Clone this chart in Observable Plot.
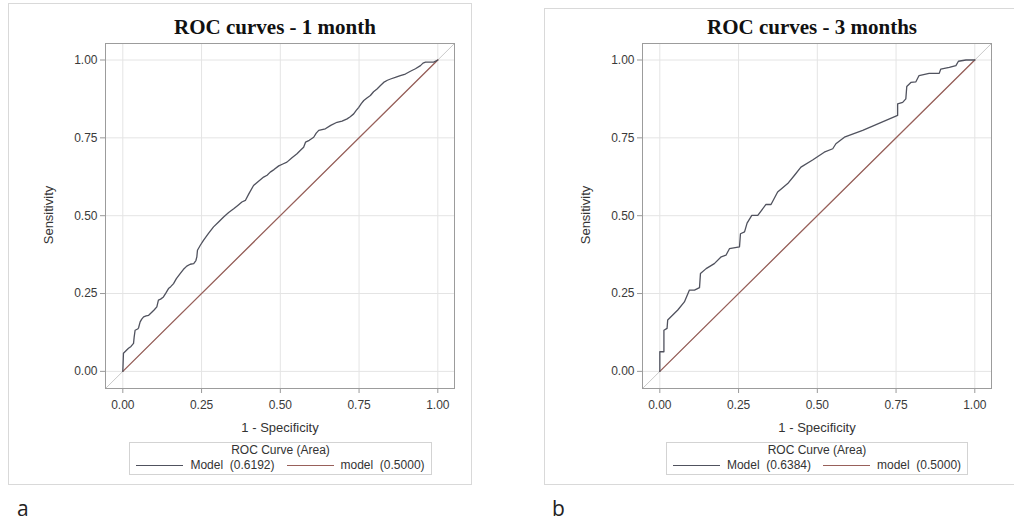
<!DOCTYPE html>
<html>
<head>
<meta charset="utf-8">
<script src="https://cdn.jsdelivr.net/npm/d3@7"></script>
<script src="https://cdn.jsdelivr.net/npm/@observablehq/plot@0.6"></script>
<style>
  html, body { margin: 0; padding: 0; background: #fff; }
  #page { position: relative; width: 1014px; height: 527px; overflow: hidden; font-family: "Liberation Sans", Arial, sans-serif; color: #333; }
  .panel { position: absolute; border: 1px solid #d9d9d9; box-sizing: border-box; }
  .title { position: absolute; font-family: "Liberation Serif", "Times New Roman", serif; font-weight: bold; font-size: 21px; color: #111; white-space: nowrap; transform: translate(-50%, -50%); }
  .xlabel { position: absolute; font-size: 13px; color: #333; white-space: nowrap; transform: translate(-50%, -50%); }
  .ylabel { position: absolute; font-size: 13px; color: #333; white-space: nowrap; transform: translate(-50%, -50%) rotate(-90deg); }
  .legend { position: absolute; border: 1px solid #d3d3d3; box-sizing: border-box; height: 33px; }
  .legend .lt { position: absolute; left: 0; right: 0; top: 0px; text-align: center; font-size: 12px; line-height: 15px; color: #333; }
  .legend .row { position: absolute; left: 0; right: 0; top: 15px; height: 14px; display: flex; justify-content: center; align-items: center; font-size: 12px; color: #333; white-space: pre; }
  .legend .sw { display: inline-block; width: 47px; height: 0; border-top: 1px solid #666; margin-right: 7px; }
  .legend .gap { display: inline-block; width: 12px; }
  .plot { position: absolute; }
  .tag { position: absolute; font-family: "Open Sans", sans-serif; font-size: 21px; color: #222; transform: translate(0, -50%); }
</style>
</head>
<body>
<div id="page"></div>
<script>
// ---------- data ----------
const axisTicks = [0, 0.25, 0.5, 0.75, 1];
const axisTickLabels = ["0.00", "0.25", "0.50", "0.75", "1.00"];

const panelTitles = ["ROC curves - 1 month", "ROC curves - 3 months"];
const panelTags = ["a", "b"];
const xAxisLabel = "1 - Specificity";
const yAxisLabel = "Sensitivity";
const legendTitle = "ROC Curve (Area)";
const modelAreas = ["0.6192", "0.6384"];
const chanceArea = "0.5000";

// 1 month ROC curve (1 - specificity, sensitivity)
const fpr1 = [0, 0.002, 0.010, 0.018, 0.026, 0.034, 0.036, 0.039, 0.047, 0.050, 0.055, 0.060, 0.066, 0.074, 0.082, 0.092, 0.100, 0.108, 0.113, 0.120, 0.129, 0.137, 0.145, 0.152, 0.161, 0.170, 0.182, 0.192, 0.203, 0.214, 0.225, 0.232, 0.235, 0.237, 0.246, 0.256, 0.272, 0.288, 0.304, 0.320, 0.336, 0.352, 0.365, 0.378, 0.389, 0.400, 0.415, 0.430, 0.447, 0.458, 0.468, 0.480, 0.495, 0.508, 0.521, 0.537, 0.553, 0.564, 0.574, 0.580, 0.592, 0.606, 0.614, 0.622, 0.643, 0.660, 0.680, 0.696, 0.712, 0.722, 0.733, 0.741, 0.749, 0.757, 0.765, 0.775, 0.786, 0.796, 0.807, 0.818, 0.828, 0.840, 0.850, 0.865, 0.881, 0.897, 0.913, 0.929, 0.945, 0.953, 0.961, 0.975, 0.987, 1];
const tpr1 = [0, 0.058, 0.066, 0.074, 0.080, 0.090, 0.110, 0.132, 0.136, 0.140, 0.159, 0.168, 0.175, 0.178, 0.180, 0.190, 0.198, 0.207, 0.229, 0.232, 0.239, 0.252, 0.266, 0.272, 0.282, 0.298, 0.314, 0.327, 0.338, 0.344, 0.346, 0.356, 0.368, 0.389, 0.405, 0.421, 0.443, 0.464, 0.480, 0.496, 0.510, 0.522, 0.533, 0.544, 0.549, 0.570, 0.597, 0.610, 0.624, 0.630, 0.640, 0.648, 0.660, 0.666, 0.672, 0.686, 0.699, 0.710, 0.720, 0.736, 0.742, 0.752, 0.765, 0.774, 0.779, 0.790, 0.800, 0.804, 0.811, 0.818, 0.827, 0.838, 0.848, 0.860, 0.870, 0.878, 0.886, 0.898, 0.907, 0.918, 0.928, 0.935, 0.939, 0.944, 0.950, 0.955, 0.964, 0.972, 0.982, 0.990, 0.993, 0.993, 0.993, 1];

// 3 months ROC curve
const fpr3 = [0, 0, 0.013, 0.013, 0.023, 0.025, 0.041, 0.057, 0.078, 0.094, 0.110, 0.126, 0.129, 0.147, 0.173, 0.195, 0.210, 0.221, 0.253, 0.256, 0.269, 0.277, 0.292, 0.311, 0.337, 0.353, 0.374, 0.406, 0.427, 0.448, 0.485, 0.522, 0.549, 0.559, 0.586, 0.644, 0.681, 0.755, 0.755, 0.771, 0.781, 0.784, 0.797, 0.813, 0.823, 0.855, 0.887, 0.892, 0.919, 0.940, 0.948, 0.972, 1];
const tpr3 = [0, 0.063, 0.063, 0.132, 0.138, 0.165, 0.181, 0.197, 0.223, 0.261, 0.261, 0.269, 0.314, 0.330, 0.346, 0.368, 0.373, 0.394, 0.400, 0.442, 0.448, 0.476, 0.501, 0.501, 0.536, 0.536, 0.576, 0.603, 0.629, 0.656, 0.679, 0.704, 0.715, 0.731, 0.752, 0.774, 0.790, 0.822, 0.859, 0.864, 0.875, 0.915, 0.928, 0.930, 0.950, 0.957, 0.957, 0.971, 0.976, 0.982, 0.996, 1, 1];

// chance line and frame diagonal
const chanceX = [0, 1];
const chanceY = [0, 1];
const axisDomain = [-0.055, 1.053];

// ---------- rendering ----------
const FONT = "'Liberation Sans', Arial, sans-serif";
const modelColor = "#50525e";
const chanceColor = "#98605a";

function pairs(xs, ys) { return xs.map((x, i) => ({x, y: ys[i]})); }

function makePlot(fpr, tpr) {
  const fmt = d => axisTickLabels[axisTicks.indexOf(d)];
  return Plot.plot({
    width: 434, height: 413,
    marginLeft: 75, marginRight: 10, marginTop: 13, marginBottom: 55,
    style: {fontFamily: FONT, fontSize: "12px", background: "transparent", color: "#333"},
    x: {domain: axisDomain, label: null},
    y: {domain: axisDomain, label: null},
    marks: [
      Plot.gridX(axisTicks, {stroke: "#e4e4e4", strokeOpacity: 1}),
      Plot.gridY(axisTicks, {stroke: "#e4e4e4", strokeOpacity: 1}),
      Plot.line(pairs(axisDomain, axisDomain), {x: "x", y: "y", stroke: "#c9c9c9", strokeWidth: 1}),
      Plot.line(pairs(chanceX, chanceY), {x: "x", y: "y", stroke: chanceColor, strokeWidth: 1.3}),
      Plot.line(pairs(fpr, tpr), {x: "x", y: "y", stroke: modelColor, strokeWidth: 1.3}),
      Plot.axisX(axisTicks, {tickFormat: fmt, tickSize: 5, tickPadding: 7, stroke: "#999", fill: "#3a3a3a", label: null}),
      Plot.axisY(axisTicks, {tickFormat: fmt, tickSize: 5, tickPadding: 3, stroke: "#999", fill: "#3a3a3a", label: null}),
      Plot.frame({stroke: "#9c9c9c"})
    ]
  });
}

const page = document.getElementById("page");
function el(cls, text, css) {
  const d = document.createElement("div");
  d.className = cls;
  if (text != null) d.textContent = text;
  Object.assign(d.style, css);
  page.appendChild(d);
  return d;
}

const panels = [
  {box: {left: "8px", top: "3px", width: "464px", height: "482px"}, svgLeft: 30, titleX: 275, centerX: 280, ylabX: 48,
   legend: {left: 129, width: 303}, tagX: 17, fpr: fpr1, tpr: tpr1},
  {box: {left: "544px", top: "8px", width: "480px", height: "477px"}, svgLeft: 567, titleX: 812, centerX: 817, ylabX: 585,
   legend: {left: 666, width: 302}, tagX: 552, fpr: fpr3, tpr: tpr3}
];

panels.forEach((p, i) => {
  el("panel", null, p.box);
  const holder = el("plot", null, {left: p.svgLeft + "px", top: "30px"});
  holder.appendChild(makePlot(p.fpr, p.tpr));
  el("title", panelTitles[i], {left: p.titleX + "px", top: "27px"});
  el("xlabel", xAxisLabel, {left: p.centerX + "px", top: "427px"});
  el("ylabel", yAxisLabel, {left: p.ylabX + "px", top: "215px"});
  const lg = el("legend", null, {left: p.legend.left + "px", top: "442px", width: p.legend.width + "px"});
  const lt = document.createElement("div"); lt.className = "lt"; lt.textContent = legendTitle; lg.appendChild(lt);
  const row = document.createElement("div"); row.className = "row";
  const sw1 = document.createElement("span"); sw1.className = "sw"; sw1.style.borderTopColor = modelColor; row.appendChild(sw1);
  const t1 = document.createElement("span"); t1.textContent = "Model  (" + modelAreas[i] + ")"; row.appendChild(t1);
  const g = document.createElement("span"); g.className = "gap"; row.appendChild(g);
  const sw2 = document.createElement("span"); sw2.className = "sw"; sw2.style.borderTopColor = chanceColor; row.appendChild(sw2);
  const t2 = document.createElement("span"); t2.textContent = "model  (" + chanceArea + ")"; row.appendChild(t2);
  lg.appendChild(row);
  el("tag", panelTags[i], {left: p.tagX + "px", top: "508px"});
});
</script>
</body>
</html>
